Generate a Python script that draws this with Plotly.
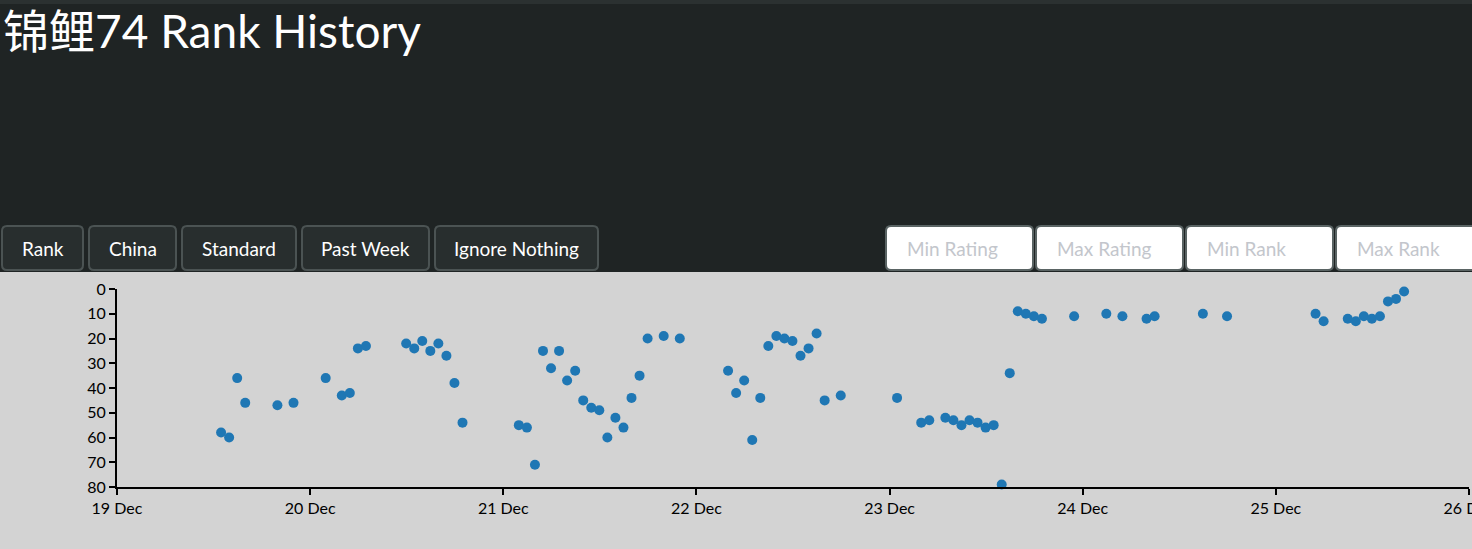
import plotly.graph_objects as go

# ---- data (hourly snapshots, rank) ----
times_19 = ["2023-12-19 12:56", "2023-12-19 13:56", "2023-12-19 14:56", "2023-12-19 15:56",
            "2023-12-19 19:56", "2023-12-19 21:56"]
ranks_19 = [58, 60, 36, 46, 47, 46]

times_20 = ["2023-12-20 01:56", "2023-12-20 03:56", "2023-12-20 04:56", "2023-12-20 05:56",
            "2023-12-20 06:56", "2023-12-20 11:56", "2023-12-20 12:56", "2023-12-20 13:56",
            "2023-12-20 14:56", "2023-12-20 15:56", "2023-12-20 16:56", "2023-12-20 17:56",
            "2023-12-20 18:56"]
ranks_20 = [36, 43, 42, 24, 23, 22, 24, 21, 25, 22, 27, 38, 54]

times_21 = ["2023-12-21 01:56", "2023-12-21 02:56", "2023-12-21 03:56", "2023-12-21 04:56",
            "2023-12-21 05:56", "2023-12-21 06:56", "2023-12-21 07:56", "2023-12-21 08:56",
            "2023-12-21 09:56", "2023-12-21 10:56", "2023-12-21 11:56", "2023-12-21 12:56",
            "2023-12-21 13:56", "2023-12-21 14:56", "2023-12-21 15:56", "2023-12-21 16:56",
            "2023-12-21 17:56", "2023-12-21 19:56", "2023-12-21 21:56"]
ranks_21 = [55, 56, 71, 25, 32, 25, 37, 33, 45, 48, 49, 60, 52, 56, 44, 35, 20, 19, 20]

times_22 = ["2023-12-22 03:56", "2023-12-22 04:56", "2023-12-22 05:56", "2023-12-22 06:56",
            "2023-12-22 07:56", "2023-12-22 08:56", "2023-12-22 09:56", "2023-12-22 10:56",
            "2023-12-22 11:56", "2023-12-22 12:56", "2023-12-22 13:56", "2023-12-22 14:56",
            "2023-12-22 15:56", "2023-12-22 17:56"]
ranks_22 = [33, 42, 37, 61, 44, 23, 19, 20, 21, 27, 24, 18, 45, 43]

times_23 = ["2023-12-23 00:56", "2023-12-23 03:56", "2023-12-23 04:56", "2023-12-23 06:56",
            "2023-12-23 07:56", "2023-12-23 08:56", "2023-12-23 09:56", "2023-12-23 10:56",
            "2023-12-23 11:56", "2023-12-23 12:56", "2023-12-23 13:56", "2023-12-23 14:56",
            "2023-12-23 15:56", "2023-12-23 16:56", "2023-12-23 17:56", "2023-12-23 18:56",
            "2023-12-23 22:56"]
ranks_23 = [44, 54, 53, 52, 53, 55, 53, 54, 56, 55, 79, 34, 9, 10, 11, 12, 11]

times_24 = ["2023-12-24 02:56", "2023-12-24 04:56", "2023-12-24 07:56", "2023-12-24 08:56",
            "2023-12-24 14:56", "2023-12-24 17:56"]
ranks_24 = [10, 11, 12, 11, 10, 11]

times_25 = ["2023-12-25 04:56", "2023-12-25 05:56", "2023-12-25 08:56", "2023-12-25 09:56",
            "2023-12-25 10:56", "2023-12-25 11:56", "2023-12-25 12:56", "2023-12-25 13:56",
            "2023-12-25 14:56", "2023-12-25 15:56"]
ranks_25 = [10, 13, 12, 13, 11, 12, 11, 5, 4, 1]

times = times_19 + times_20 + times_21 + times_22 + times_23 + times_24 + times_25
ranks = ranks_19 + ranks_20 + ranks_21 + ranks_22 + ranks_23 + ranks_24 + ranks_25

tick_vals = ["2023-12-19", "2023-12-20", "2023-12-21", "2023-12-22",
             "2023-12-23", "2023-12-24", "2023-12-25", "2023-12-26"]
tick_text = ["19 Dec", "20 Dec", "21 Dec", "22 Dec", "23 Dec", "24 Dec", "25 Dec", "26 Dec"]
rank_ticks = [0, 10, 20, 30, 40, 50, 60, 70, 80]

title_text = "锦鲤74 Rank History"
button_labels = ["Rank", "China", "Standard", "Past Week", "Ignore Nothing"]
input_labels = ["Min Rating", "Max Rating", "Min Rank", "Max Rank"]

# ---- layout geometry (pixels) ----
W, H = 1472, 549
L, R, T, B = 117, 1469, 289, 487
PW, PH = R - L, B - T

FONT = "Lato, 'Noto Sans CJK SC', 'Open Sans', sans-serif"


def fx(px):
    return (px - L) / PW


def fy(py):
    return (B - py) / PH


def rrect(x0, y0, x1, y1, r):
    pts = [
        f"M {fx(x0 + r)},{fy(y0)}",
        f"L {fx(x1 - r)},{fy(y0)}",
        f"Q {fx(x1)},{fy(y0)} {fx(x1)},{fy(y0 + r)}",
        f"L {fx(x1)},{fy(y1 - r)}",
        f"Q {fx(x1)},{fy(y1)} {fx(x1 - r)},{fy(y1)}",
        f"L {fx(x0 + r)},{fy(y1)}",
        f"Q {fx(x0)},{fy(y1)} {fx(x0)},{fy(y1 - r)}",
        f"L {fx(x0)},{fy(y0 + r)}",
        f"Q {fx(x0)},{fy(y0)} {fx(x0 + r)},{fy(y0)}",
        "Z",
    ]
    return " ".join(pts)


fig = go.Figure()
fig.add_trace(go.Scatter(
    x=times, y=ranks, mode="markers",
    marker=dict(color="#1f77b4", size=10, line=dict(width=0)),
    hoverinfo="x+y", showlegend=False, cliponaxis=False,
))

shapes = []
annotations = []

# top strip
shapes.append(dict(type="rect", xref="paper", yref="paper", x0=fx(0), x1=fx(W), y0=fy(0), y1=fy(4),
                   fillcolor="#2b3131", line=dict(width=0), layer="below"))
# gray chart panel
shapes.append(dict(type="rect", xref="paper", yref="paper", x0=fx(0), x1=fx(W), y0=fy(272), y1=fy(H + 2),
                   fillcolor="#d3d3d3", line=dict(width=0), layer="below"))

# buttons
btn_x = [(2, 83), (89, 176), (182, 296), (302, 429), (435, 598)]
for (a, b), lab in zip(btn_x, button_labels):
    shapes.append(dict(type="path", xref="paper", yref="paper", path=rrect(a, 226, b, 270, 5),
                       fillcolor="#282e2e", line=dict(color="#4b5353", width=2), layer="below"))
    annotations.append(dict(xref="paper", yref="paper", x=fx((a + b) / 2), y=fy(248.5), text=lab,
                            showarrow=False, xanchor="center", yanchor="middle",
                            font=dict(family=FONT, size=19, color="#ffffff")))

# inputs
inp_x = [(886, 1033), (1036, 1183), (1186, 1333), (1336, 1480)]
for (a, b), lab in zip(inp_x, input_labels):
    shapes.append(dict(type="path", xref="paper", yref="paper", path=rrect(a, 226, b, 270, 5),
                       fillcolor="#ffffff", line=dict(color="#5a6464", width=2), layer="below"))
    annotations.append(dict(xref="paper", yref="paper", x=fx(a + 19), y=fy(248.5), text=lab,
                            showarrow=False, xanchor="left", yanchor="middle",
                            font=dict(family=FONT, size=19, color="#c3c6cc")))

# title
annotations.append(dict(xref="paper", yref="paper", x=fx(1), y=fy(30), text=title_text,
                        showarrow=False, xanchor="left", yanchor="middle",
                        font=dict(family=FONT, size=46, color="#ffffff")))

fig.update_layout(
    width=W, height=H, autosize=False,
    margin=dict(l=L, r=W - R, t=T, b=H - B, pad=0, autoexpand=False),
    paper_bgcolor="#1f2424",
    plot_bgcolor="#d3d3d3",
    shapes=shapes,
    annotations=annotations,
    font=dict(family=FONT, size=16, color="#000000"),
    xaxis=dict(
        type="date", range=["2023-12-19", "2023-12-26"],
        tickmode="array", tickvals=tick_vals, ticktext=tick_text,
        showgrid=False, zeroline=False, showline=True, linecolor="#000000", linewidth=2,
        ticks="outside", ticklen=6, tickwidth=2, tickcolor="#000000",
        ticklabeloverflow="allow", automargin=False,
        tickfont=dict(family=FONT, size=16, color="#000000"),
    ),
    yaxis=dict(
        range=[80, 0], tickmode="array", tickvals=rank_ticks,
        showgrid=False, zeroline=False, showline=True, linecolor="#000000", linewidth=2,
        ticks="outside", ticklen=6, tickwidth=2, tickcolor="#000000",
        ticklabeloverflow="allow", automargin=False,
        tickfont=dict(family=FONT, size=16, color="#000000"),
    ),
)

fig.write_html(
    "out.html",
    config={"displayModeBar": False},
    post_script="document.body.style.margin='0px';document.body.style.background='#1f2424';"
                "document.documentElement.style.overflow='hidden';",
)
